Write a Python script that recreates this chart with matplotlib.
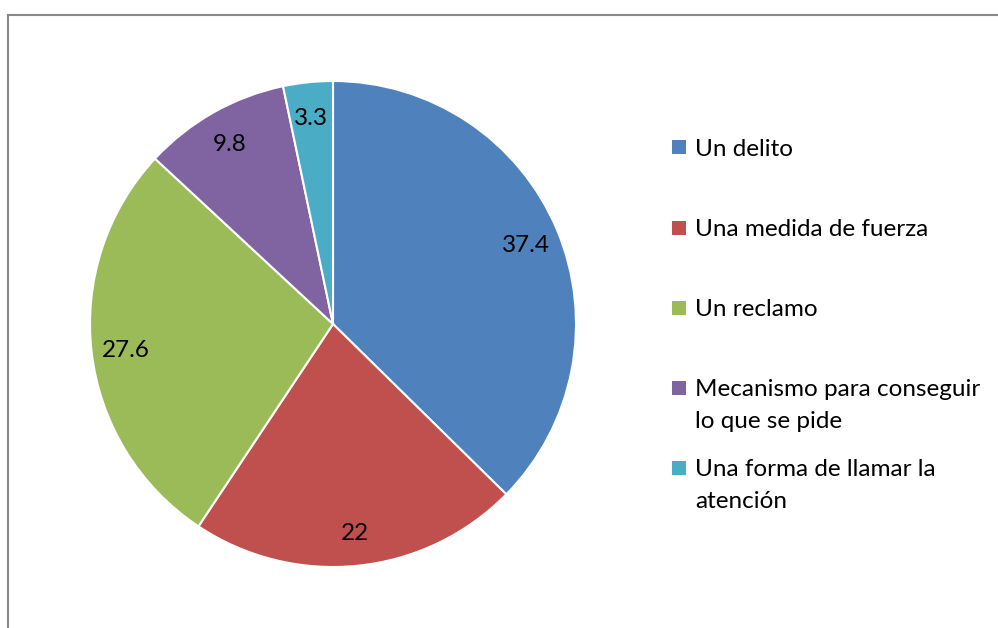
import numpy as np
import matplotlib
matplotlib.use("Agg")
import matplotlib.pyplot as plt
from matplotlib.patches import Rectangle
from matplotlib.lines import Line2D

categories = ["Un delito", "Una medida de fuerza", "Un reclamo",
              "Mecanismo para conseguir\nlo que se pide",
              "Una forma de llamar la\natención"]
values = [37.4, 22, 27.6, 9.8, 3.3]
value_labels = ["37.4", "22", "27.6", "9.8", "3.3"]
colors = ["#4F81BD", "#C0504D", "#9BBB59", "#8064A2", "#4BACC6"]

W, H = 998, 628
fig = plt.figure(figsize=(W / 100, H / 100), dpi=100)
plt.rcParams['font.family'] = ['Lato', 'DejaVu Sans']
FS = 17.5

cx, cy, r = 333, 324, 243
ax = fig.add_axes([(cx - r) / W, (H - cy - r) / H, 2 * r / W, 2 * r / H])
wedges, _ = ax.pie(values, colors=colors, startangle=90, counterclock=False,
                   radius=1, wedgeprops=dict(edgecolor="white", linewidth=1.5))
ax.set_xlim(-1, 1)
ax.set_ylim(-1, 1)
ax.set_aspect("equal")
ax.axis("off")

for w, lab in zip(wedges, value_labels):
    ang = np.deg2rad((w.theta1 + w.theta2) / 2)
    d = 0.86
    ax.text(d * np.cos(ang), d * np.sin(ang), lab, ha="center",
            va="center_baseline", fontsize=FS, color="black")

# legend drawn manually
legend_y = [147, 228, 308, 388, 468]
for w, lab, y in zip(wedges, categories, legend_y):
    fig.patches.append(Rectangle((672 / W, (H - y - 7) / H), 14 / W, 14 / H,
                                 transform=fig.transFigure,
                                 facecolor=w.get_facecolor(), edgecolor="none"))
    lines = lab.split("\n")
    for i, line in enumerate(lines):
        fig.text(695 / W, (H - y - 32 * i) / H, line, ha="left",
                 va="center_baseline", fontsize=FS, color="black")

# partial border
fig.add_artist(Line2D([7.5 / W, 1], [(H - 14.5) / H, (H - 14.5) / H],
                      transform=fig.transFigure, color="#898989", lw=1.5))
fig.add_artist(Line2D([7.5 / W, 7.5 / W], [0, (H - 14.5) / H],
                      transform=fig.transFigure, color="#898989", lw=1.5))

fig.savefig("out.png", dpi=100, facecolor="white")
